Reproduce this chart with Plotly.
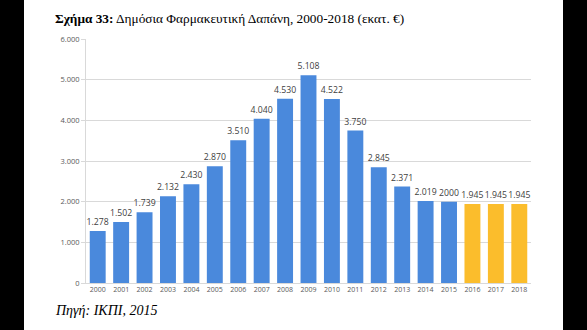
import plotly.graph_objects as go

years = [str(y) for y in range(2000, 2019)]
values = [1278, 1502, 1739, 2132, 2430, 2870, 3510, 4040, 4530, 5108,
          4522, 3750, 2845, 2371, 2019, 2000, 1945, 1945, 1945]
labels = ["1.278", "1.502", "1.739", "2.132", "2.430", "2.870", "3.510", "4.040",
          "4.530", "5.108", "4.522", "3.750", "2.845", "2.371", "2.019", "2000",
          "1.945", "1.945", "1.945"]
ytick_vals = [0, 1000, 2000, 3000, 4000, 5000, 6000]
ytick_text = ["0", "1.000", "2.000", "3.000", "4.000", "5.000", "6.000"]

BLUE = "#4a89dc"
YELLOW = "#fbbd2c"
colors = [BLUE] * 16 + [YELLOW] * 3

fig = go.Figure(go.Bar(
    x=years, y=values, marker_color=colors, marker_line_width=0,
    text=labels, textposition="outside", cliponaxis=False,
    constraintext="none",
    textfont=dict(family="Open Sans", size=8.7, color="#404040"),
))

W, H = 587, 330
L, R, T, B = 86, 56, 39, 47
pw, ph = W - L - R, H - T - B

def px(xp):
    return (xp - L) / pw

def py(yp):
    return (H - B - yp) / ph

fig.update_layout(
    width=W, height=H, margin=dict(l=L, r=R, t=T, b=B),
    paper_bgcolor="white", plot_bgcolor="white",
    bargap=0.32, showlegend=False,
    uniformtext=dict(mode=False),
    font=dict(family="Open Sans", color="#595959"),
    xaxis=dict(type="category", tickfont=dict(size=7, color="#595959"),
               showline=True, linecolor="#d9d9d9", linewidth=1,
               ticks="", showgrid=False),
    yaxis=dict(range=[0, 6000], tickvals=ytick_vals, ticktext=ytick_text,
               tickfont=dict(size=7.5, color="#595959"),
               showgrid=True, gridcolor="#d9d9d9", gridwidth=1,
               showline=True, linecolor="#d9d9d9", linewidth=1,
               ticks="outside", ticklen=4, tickcolor="#d9d9d9", zeroline=False),
    shapes=[
        dict(type="rect", xref="paper", yref="paper", x0=px(-5), x1=px(24),
             y0=py(335), y1=py(-5), fillcolor="black", line_width=0, layer="above"),
        dict(type="rect", xref="paper", yref="paper", x0=px(563), x1=px(592),
             y0=py(335), y1=py(-5), fillcolor="black", line_width=0, layer="above"),
    ],
    annotations=[
        dict(text="<b>Σχήμα 33:</b> Δημόσια Φαρμακευτική Δαπάνη, 2000-2018 (εκατ. €)",
             xref="paper", yref="paper", x=px(53), y=py(19), xanchor="left",
             yanchor="middle", showarrow=False,
             font=dict(family="Liberation Serif", size=13.3, color="black")),
        dict(text="<i>Πηγή: ΙΚΠΙ, 2015</i>",
             xref="paper", yref="paper", x=px(53), y=py(310), xanchor="left",
             yanchor="middle", showarrow=False,
             font=dict(family="Liberation Serif", size=14, color="black")),
    ],
)

fig.write_html("out.html")
